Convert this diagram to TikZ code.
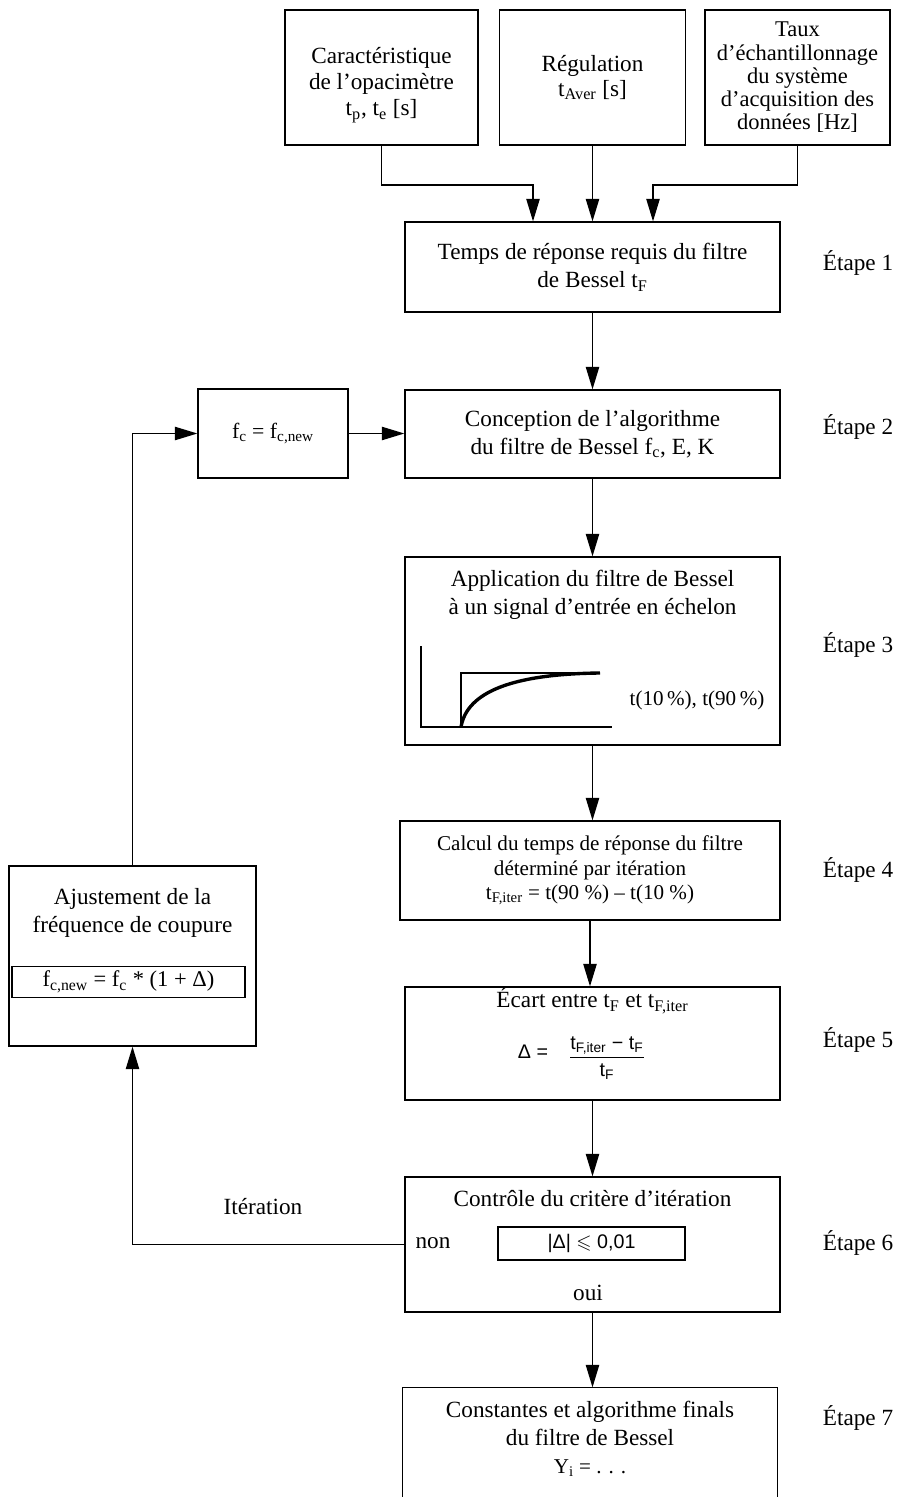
\documentclass[tikz,border=0pt]{standalone}
\usepackage{fontspec}
\usepackage{amsmath,amssymb}
\setmainfont{Liberation Serif}
\setsansfont{Liberation Sans}
\usetikzlibrary{arrows.meta, positioning}

\begin{document}
\begin{tikzpicture}[
    x=0.025cm, y=-0.025cm,
    line width=0.9pt,
    box_style/.style={draw, line width=0.9pt, align=center, inner sep=2pt},
    input_box/.style={box_style, minimum height=3.375cm, font=\fontsize{16.5}{18}\selectfont},
    step_box/.style={box_style, minimum width=9.375cm, font=\fontsize{16.5}{20}\selectfont},
    text_style/.style={font=\fontsize{16.5}{20}\selectfont, align=center, inner sep=1pt},
    small_text/.style={font=\fontsize{15}{18}\selectfont, inner sep=1pt},
    sans_style/.style={font=\sffamily\fontsize{14}{17}\selectfont, inner sep=1pt},
    etape_style/.style={font=\fontsize{16.5}{20}\selectfont},
    flow_arrow/.style={-{Triangle[length=16pt, width=9.5pt]}}
]
\useasboundingbox (0,0) rectangle (898,1497);

% Inputs (top row)
\node[input_box, minimum width=4.825cm] (opa) at (381.5,77.5) {};
\node[text_style, font=\fontsize{16.5}{18.5}\selectfont] (opa_text) at (381.5,85) {Caractéristique\\de l’opacimètre\\t\textsubscript{p}, t\textsubscript{e} [s]};
\node[input_box, minimum width=4.65cm] (reg) at (592.5,77.5) {Régulation\\t\textsubscript{Aver} [s]};
\node[input_box, minimum width=4.625cm, font=\fontsize{16}{16.5}\selectfont] (taux) at (797.5,77.5) {Taux\\d’échantillonnage\\du système\\d’acquisition des\\données [Hz]};

% Steps 1 - 2
\node[step_box, minimum height=2.25cm] (step1) at (592.5,267) {Temps de réponse requis du filtre\\de Bessel t\textsubscript{F}};
\node[step_box, minimum height=2.2cm] (step2) at (592.5,434) {Conception de l’algorithme\\du filtre de Bessel f\textsubscript{c}, E, K};

% Step 3 with the step response sketch
\node[step_box, minimum height=4.7cm] (step3) at (592.5,651) {};
\node[text_style] (step3_title) at (592.5,594.5) {Application du filtre de Bessel\\à un signal d’entrée en échelon};
\draw (421,646) |- (612,727);
\draw (461,727) |- (599,673);
\draw[line width=2.4pt] (461,727) .. controls (467,692) and (512,674) .. (600,673);
\node[small_text] (t_pct) at (697,700) {t(10\,\%), t(90\,\%)};

% Step 4
\node[step_box, minimum width=9.5cm, minimum height=2.475cm, font=\fontsize{15}{17.5}\selectfont] (step4) at (590,870.5) {Calcul du temps de réponse du filtre\\déterminé par itération\\t\textsubscript{F,iter} = t(90 \%) – t(10 \%)};

% Step 5
\node[step_box, minimum height=2.825cm] (step5) at (592.5,1043.5) {};
\node[text_style] (step5_title) at (592.5,1001) {Écart entre t\textsubscript{F} et t\textsubscript{F,iter}};
\node[sans_style] (delta_eq) at (533,1052) {Δ =};
\node[sans_style] (delta_frac) at (607,1058) {$\dfrac{\text{t\textsubscript{F,iter} − t\textsubscript{F}}}{\text{t\textsubscript{F}}}$};

% Step 6
\node[step_box, minimum height=3.375cm] (step6) at (592.5,1244.5) {};
\node[text_style] (step6_title) at (592.5,1199) {Contrôle du critère d’itération};
\node[text_style] (non) at (433,1243) {non};
\node[draw, sans_style, minimum width=4.675cm, minimum height=0.825cm] (crit) at (591.5,1243.5) {|Δ| $\leqslant$ 0,01};
\node[text_style] (oui) at (588,1293) {oui};

% Step 7 (open at the bottom)
\node[minimum width=9.35cm, minimum height=2.85cm, inner sep=0pt] (step7) at (590,1445) {};
\draw (step7.south west) -- (step7.north west) -- (step7.north east) -- (step7.south east);
\node[text_style] (step7_title) at (590,1423.5) {Constantes et algorithme finals\\du filtre de Bessel};
\node[small_text] (yi) at (590,1468) {Y\textsubscript{i} = . . .};

% Iteration loop (left)
\node[box_style, minimum width=3.75cm, minimum height=2.225cm, font=\fontsize{15.5}{18}\selectfont] (fc_new) at (273,433.5) {f\textsubscript{c} = f\textsubscript{c,new}};
\node[box_style, minimum width=6.175cm, minimum height=4.5cm] (adjust) at (132.5,956) {};
\node[text_style] (adjust_title) at (132.5,912.5) {Ajustement de la\\fréquence de coupure};
\node[draw, font=\fontsize{16}{18}\selectfont, minimum width=5.825cm, minimum height=0.75cm] (fc_formula) at (128.5,982) {f\textsubscript{c,new} = f\textsubscript{c} * (1 + Δ)};
\node[text_style] (iter_label) at (263,1207) {Itération};

% Step labels
\foreach \y/\n in {263/1, 427/2, 645/3, 870/4, 1040/5, 1243/6, 1418/7}
    \node[etape_style] (etape\n) at (858,\y) {Étape \n};

% Connectors
\coordinate (j_opa) at (533,185);
\coordinate (j_taux) at (653,185);
\draw[flow_arrow] (opa.south) |- (j_opa) -- (j_opa |- step1.north);
\draw[flow_arrow] (reg.south) -- (step1.north);
\draw[flow_arrow] (taux.south) |- (j_taux) -- (j_taux |- step1.north);
\foreach \a/\b in {step1/step2, step2/step3, step3/step4, step4/step5, step5/step6, step6/step7}
    \draw[flow_arrow] (\a.south) -- (\a.south |- \b.north);
\draw[flow_arrow] (fc_new.east) -- (fc_new.east -| step2.west);
\draw[flow_arrow] (adjust.north) |- (fc_new.west);
\draw[flow_arrow] (step6.west) -| (adjust.south);

\end{tikzpicture}
\end{document}
